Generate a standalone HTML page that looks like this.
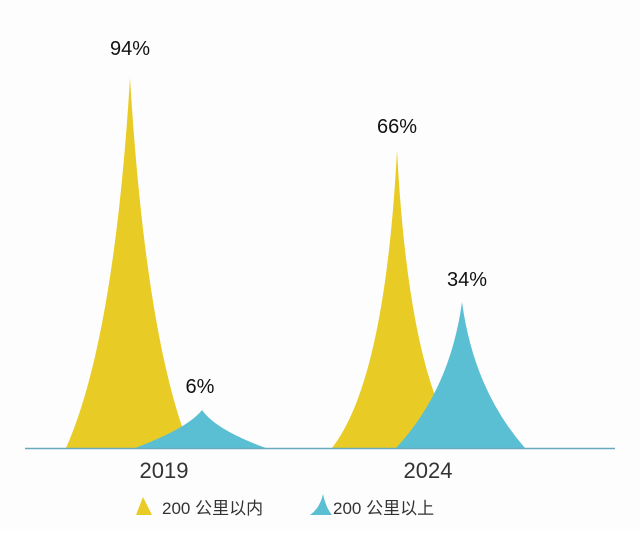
<!DOCTYPE html>
<html><head><meta charset="utf-8"><style>
body{margin:0;background:#fff;}
svg text{font-family:"Liberation Sans","Noto Sans CJK SC",sans-serif;}
</style></head><body>
<svg width="640" height="529" viewBox="0 0 640 529" xmlns="http://www.w3.org/2000/svg">
<rect width="640" height="529" fill="#fdfdfd"/>
<path d="M66,448 Q114,340 130,78 Q146,340 190,448 Z" fill="#e9cb26"/>
<path d="M135,448 Q188,428 202,410 Q216,430 266,448 Z" fill="#5bbfd3"/>
<path d="M332,448 Q385,380 397,150 Q409,380 462,448 Z" fill="#e9cb26"/>
<path d="M396,448 Q450,390 462,302 Q474,390 525,448 Z" fill="#5bbfd3"/>
<line x1="25" y1="448.5" x2="615" y2="448.5" stroke="#6aa9bd" stroke-width="1.5"/>
<text x="130" y="55" font-size="20" text-anchor="middle" fill="#111">94%</text>
<text x="200" y="393" font-size="20" text-anchor="middle" fill="#111">6%</text>
<text x="397" y="133" font-size="20" text-anchor="middle" fill="#111">66%</text>
<text x="467" y="286" font-size="20" text-anchor="middle" fill="#111">34%</text>
<text x="164" y="478" font-size="22" text-anchor="middle" fill="#333">2019</text>
<text x="428" y="478" font-size="22" text-anchor="middle" fill="#333">2024</text>
<path d="M136,515 L143,497 L152,515 Z" fill="#e9cb26"/>
<text x="162" y="514" font-size="17" fill="#333">200 公里以内</text>
<path d="M310,515 Q320,508 323,494 Q326,508 332,515 Z" fill="#5bbfd3"/>
<text x="333" y="514" font-size="17" fill="#333">200 公里以上</text>
</svg>
</body></html>
